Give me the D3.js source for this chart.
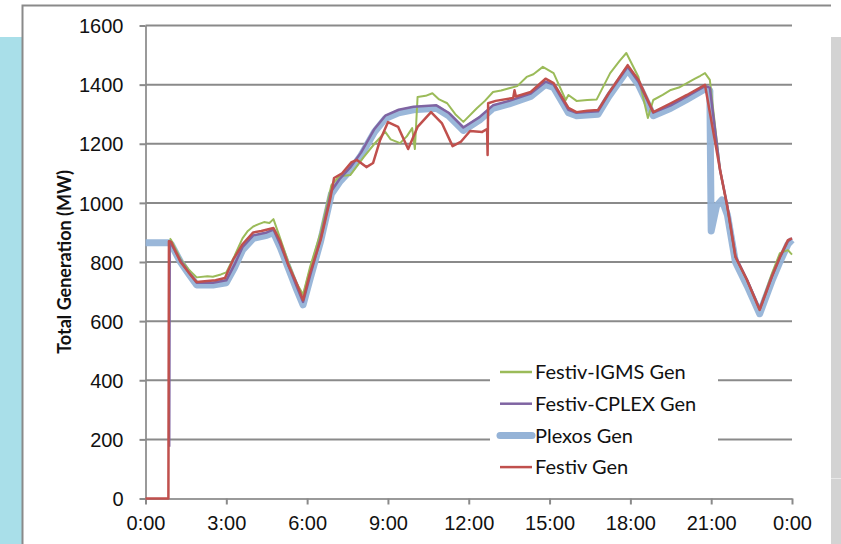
<!DOCTYPE html>
<html>
<head>
<meta charset="utf-8">
<script src="https://cdn.jsdelivr.net/npm/d3@7"></script>
<style>
  html, body { margin: 0; padding: 0; background: #fff; }
  svg { display: block; font-family: Lato, "Open Sans", sans-serif; }
</style>
</head>
<body>
<div id="chart"></div>
<script>
// hours since midnight, MW
const xTickLabels = ['0:00', '3:00', '6:00', '9:00', '12:00', '15:00', '18:00', '21:00', '0:00'];
const yTicks = [0, 200, 400, 600, 800, 1000, 1200, 1400, 1600];

const plexosGen = [
  [0, 865], [0.85, 865], [0.95, 860], [1.3, 800], [1.6, 760], [1.9, 722], [2.5, 722], [3.0, 730],
  [3.3, 780], [3.6, 840], [4.0, 880], [4.5, 890], [4.75, 900], [5.0, 850], [5.3, 780], [5.6, 710],
  [5.85, 655], [6.1, 740], [6.5, 870], [6.9, 1030], [7.2, 1070], [7.6, 1110], [8.0, 1160], [8.5, 1240],
  [8.9, 1285], [9.4, 1305], [9.95, 1315], [10.8, 1320], [11.25, 1295], [11.8, 1245], [12.4, 1280],
  [12.9, 1320], [13.5, 1335], [14.3, 1360], [14.85, 1400], [15.15, 1390], [15.7, 1305], [16.0, 1295],
  [16.8, 1300], [17.2, 1360], [17.9, 1450], [18.3, 1400], [18.85, 1295], [19.5, 1320], [20.1, 1350],
  [20.77, 1385], [20.95, 1380], [21.0, 905], [21.2, 990], [21.4, 1010], [21.6, 960], [21.9, 800],
  [22.33, 720], [22.8, 625], [23.25, 735], [23.55, 800], [23.85, 860], [24, 875]
];

const cplexGen = [
  [0.88, 175], [0.9, 870], [1.3, 805], [1.6, 765], [1.9, 730], [2.5, 730], [3.0, 738], [3.3, 790],
  [3.6, 850], [4.0, 890], [4.5, 900], [4.75, 910], [5.0, 860], [5.3, 790], [5.6, 720], [5.85, 665],
  [6.1, 750], [6.5, 880], [6.9, 1040], [7.2, 1080], [7.6, 1120], [8.0, 1170], [8.5, 1250], [8.9, 1295],
  [9.4, 1315], [9.95, 1325], [10.8, 1330], [11.25, 1305], [11.8, 1255], [12.4, 1290], [12.9, 1330],
  [13.5, 1345], [14.3, 1370], [14.85, 1410], [15.15, 1400], [15.7, 1315], [16.0, 1305], [16.8, 1310],
  [17.2, 1370], [17.9, 1460], [18.3, 1410], [18.85, 1305], [19.5, 1330], [20.1, 1360], [20.77, 1395],
  [20.95, 1390], [21.33, 1110], [21.6, 990], [21.9, 820], [22.33, 740], [22.8, 640], [23.25, 750],
  [23.55, 815], [23.85, 870], [24, 880]
];

const igmsGen = [
  [0.9, 880], [0.95, 875], [1.3, 810], [1.6, 775], [1.9, 748], [2.3, 752], [2.5, 750], [2.8, 758], [3.0, 765],
  [3.3, 820], [3.6, 880], [3.8, 905], [4.0, 920], [4.2, 928], [4.4, 935], [4.6, 932], [4.75, 945], [5.0, 880],
  [5.3, 800], [5.6, 730], [5.85, 690], [6.1, 780], [6.5, 900], [6.9, 1060], [7.2, 1090], [7.6, 1094],
  [8.1, 1155], [8.5, 1200], [8.9, 1240], [9.1, 1215], [9.45, 1202], [9.7, 1225], [9.9, 1253], [10.0, 1182],
  [10.1, 1358], [10.4, 1362], [10.65, 1371], [10.9, 1350], [11.2, 1337], [11.5, 1300], [11.8, 1274],
  [12.3, 1320], [12.6, 1345], [12.9, 1375], [13.2, 1380], [13.5, 1388], [13.8, 1395], [14.15, 1426],
  [14.4, 1435], [14.75, 1460], [15.15, 1439], [15.6, 1348], [15.7, 1365], [16.0, 1345], [16.4, 1348],
  [16.75, 1350], [17.25, 1439], [17.6, 1480], [17.85, 1507], [18.3, 1426], [18.65, 1287], [18.85, 1348],
  [19.2, 1365], [19.5, 1382], [19.8, 1390], [20.1, 1405], [20.4, 1420], [20.6, 1430], [20.77, 1439],
  [20.95, 1416], [21.33, 1111], [21.6, 986], [21.9, 817], [22.33, 739], [22.8, 640], [23.25, 760],
  [23.55, 830], [23.85, 840], [24, 825]
];

const festivGen = [
  [0, 0], [0.85, 0], [0.87, 870], [0.95, 868], [1.3, 800], [1.6, 765], [1.9, 732], [2.2, 735],
  [2.6, 738], [2.95, 746], [3.25, 807], [3.6, 860], [4.0, 900], [4.3, 905], [4.75, 915], [5.0, 870],
  [5.3, 790], [5.6, 730], [5.85, 671], [6.1, 760], [6.5, 874], [6.85, 1010], [7.0, 1084], [7.3, 1100],
  [7.65, 1138], [7.85, 1145], [8.2, 1121], [8.45, 1135], [8.7, 1210], [9.0, 1273], [9.38, 1257],
  [9.75, 1182], [10.1, 1257], [10.6, 1307], [11.0, 1270], [11.4, 1192], [11.7, 1206], [12.05, 1243],
  [12.5, 1240], [12.68, 1250], [12.7, 1162], [12.72, 1337], [13.0, 1345], [13.65, 1355], [13.7, 1381],
  [13.75, 1360], [14.3, 1375], [14.85, 1420], [15.15, 1405], [15.7, 1321], [16.0, 1307], [16.4, 1312],
  [16.8, 1314], [17.2, 1372], [17.9, 1466], [18.3, 1416], [18.85, 1307], [19.5, 1337], [20.1, 1365],
  [20.77, 1399], [21.33, 1111], [21.6, 986], [21.9, 817], [22.33, 739], [22.8, 638], [23.25, 750],
  [23.55, 817], [23.85, 874], [24, 880]
];

const seriesNames = ['Festiv-IGMS Gen', 'Festiv-CPLEX Gen', 'Plexos Gen', 'Festiv Gen'];

const width = 841;
const height = 544;
const labelSize = 20;

const svg = d3.select('#chart').append('svg')
  .attr('width', width)
  .attr('height', height);

// slide decoration: blue band on the left, grey band on the right, frame
svg.append('rect').attr('x', 0).attr('y', 37).attr('width', 22).attr('height', height - 37).attr('fill', '#a9dfe9');
svg.append('rect').attr('x', 831).attr('y', 37).attr('width', 10).attr('height', height - 37).attr('fill', '#d3d3d3');
svg.append('rect').attr('x', 831).attr('y', 478).attr('width', 10).attr('height', 1).attr('fill', '#e8e8e8');
svg.append('path')
  .attr('d', `M22.5,${height} V5.5 H831`)
  .attr('fill', 'none').attr('stroke', '#8a8a8a').attr('stroke-width', 2);

const x = d3.scaleLinear().domain([0, 24]).range([145.5, 792]);
const y = d3.scaleLinear().domain([0, 1600]).range([498.5, 25.5]);

// gridlines + y labels
const yAxis = svg.append('g')
  .attr('transform', 'translate(145.5,0)')
  .call(d3.axisLeft(y).tickValues(yTicks).tickFormat(d3.format('d'))
    .tickSize(6).tickSizeOuter(0).tickPadding(16));
yAxis.select('.domain').attr('stroke', '#9a9a9a').attr('stroke-width', 2);
yAxis.selectAll('.tick line').attr('stroke', '#8a8a8a').attr('stroke-width', 2);
yAxis.selectAll('.tick text').attr('font-size', labelSize).attr('fill', '#111').attr('dy', '0.36em');

svg.append('g')
  .selectAll('line')
  .data(yTicks.filter(d => d > 0))
  .join('line')
  .attr('x1', 145.5).attr('x2', 792)
  .attr('y1', d => y(d)).attr('y2', d => y(d))
  .attr('stroke', '#8a8a8a').attr('stroke-width', 2);

const xAxis = svg.append('g')
  .attr('transform', `translate(0,${y(0)})`)
  .call(d3.axisBottom(x).tickValues(d3.range(0, 25, 3)).tickSize(6).tickSizeOuter(0).tickPadding(11)
    .tickFormat((d, i) => xTickLabels[i]));
xAxis.select('.domain').attr('stroke', '#9a9a9a').attr('stroke-width', 2);
xAxis.selectAll('.tick line').attr('stroke', '#8a8a8a').attr('stroke-width', 2);
xAxis.selectAll('.tick text').attr('font-size', labelSize).attr('fill', '#111');

svg.append('text')
  .attr('transform', `translate(71,262) rotate(-90)`)
  .attr('text-anchor', 'middle')
  .attr('font-size', 18)
  .attr('font-weight', 'bold')
  .attr('fill', '#111')
  .text('Total Generation (MW)');

const line = d3.line().x(d => x(d[0])).y(d => y(d[1]));

const styles = [
  { data: plexosGen, color: '#95b3d7', w: 7, op: 0.95 },
  { data: igmsGen, color: '#9bbb59', w: 2, op: 1 },
  { data: cplexGen, color: '#7f64a2', w: 2.5, op: 1 },
  { data: festivGen, color: '#c0504d', w: 2.5, op: 1 }
];

styles.forEach(s => {
  svg.append('path')
    .datum(s.data)
    .attr('fill', 'none')
    .attr('stroke', s.color)
    .attr('stroke-width', s.w)
    .attr('stroke-opacity', s.op)
    .attr('stroke-linejoin', 'round')
    .attr('d', line);
});

// legend
const legendColors = ['#9bbb59', '#7f64a2', '#95b3d7', '#c0504d'];
const legendWidths = [2.5, 2.5, 7, 2.5];
const legend = svg.append('g');
legend.append('rect')
  .attr('x', 490).attr('y', 355).attr('width', 228).attr('height', 128)
  .attr('fill', '#fff');
seriesNames.forEach((name, i) => {
  const cy = 372 + i * 31.7;
  legend.append('line')
    .attr('x1', 500).attr('x2', 532)
    .attr('y1', cy).attr('y2', cy)
    .attr('stroke', legendColors[i])
    .attr('stroke-width', legendWidths[i])
    .attr('stroke-linecap', i === 2 ? 'round' : 'butt');
  legend.append('text')
    .attr('x', 535).attr('y', cy)
    .attr('dy', '0.36em')
    .attr('font-size', labelSize)
    .attr('fill', '#111')
    .text(name);
});
</script>
</body>
</html>
